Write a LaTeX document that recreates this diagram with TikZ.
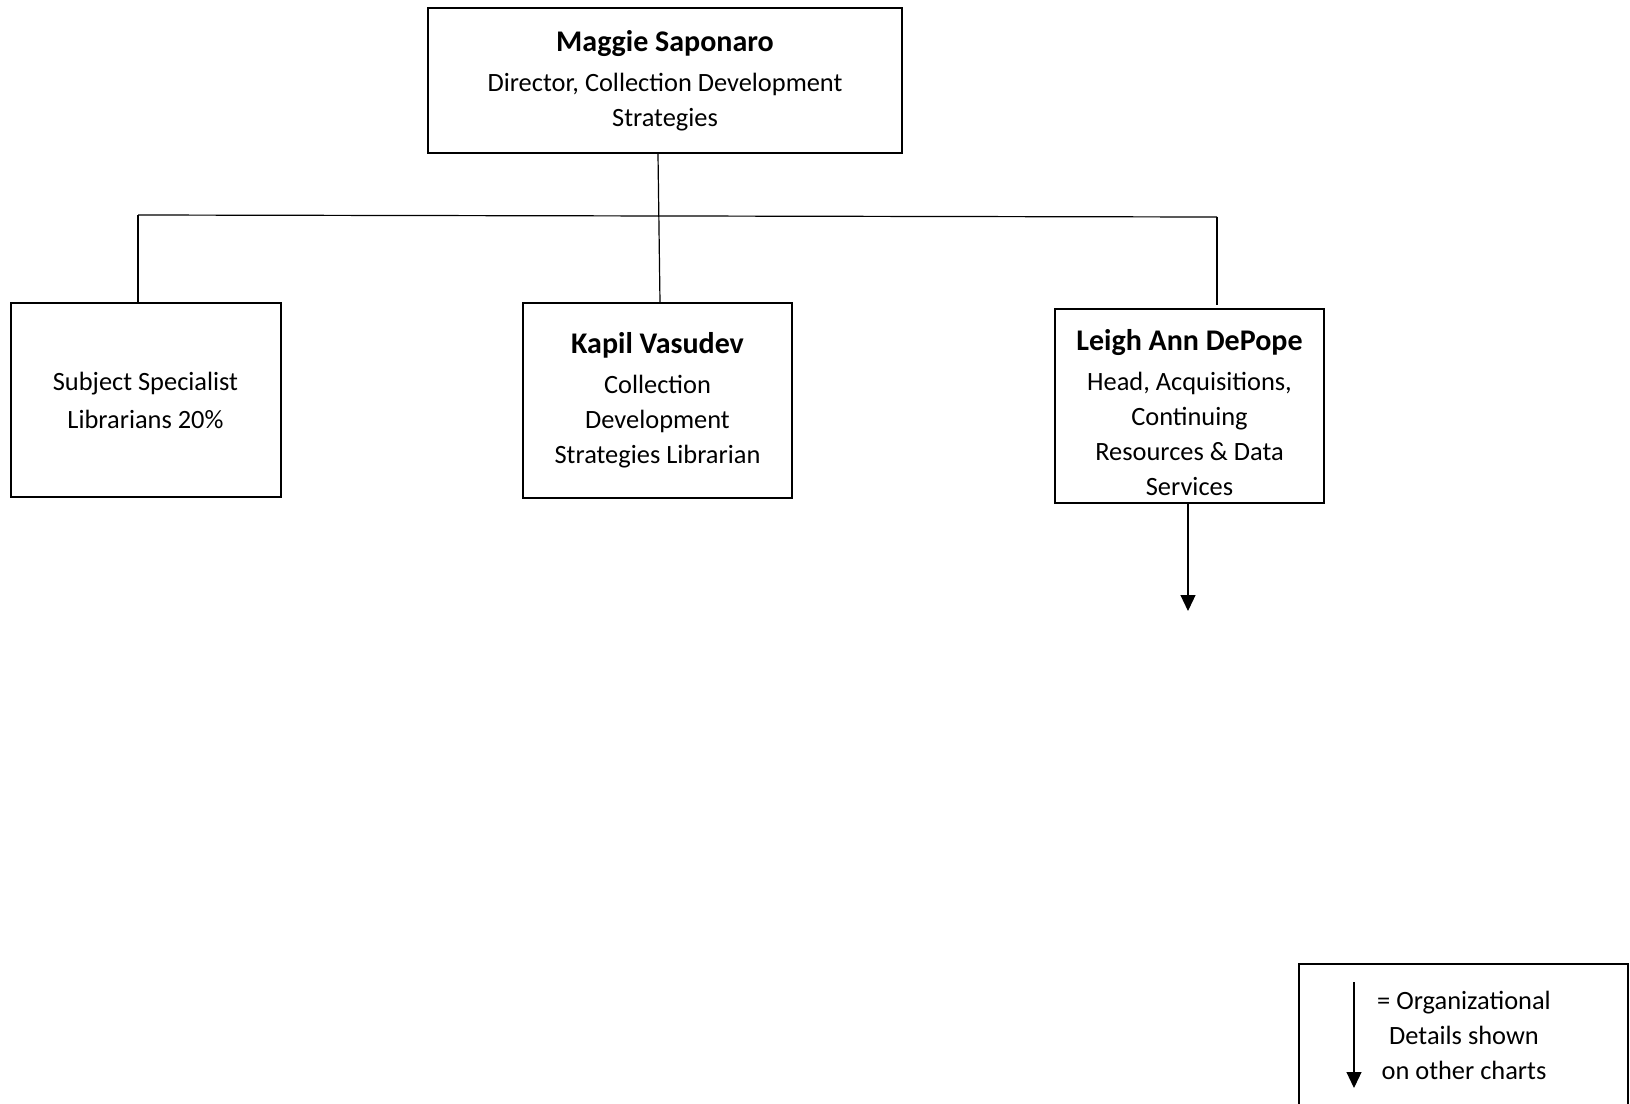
\documentclass[tikz,border=0pt]{standalone}
\usepackage{fontspec}
\setmainfont{Carlito}
\usetikzlibrary{arrows.meta}
\newcommand{\nm}[1]{{\fontsize{15}{17.5}\selectfont\bfseries #1}}
\begin{document}
\begin{tikzpicture}[x=0.5pt,y=-0.5pt,
  box/.style={draw,line width=1pt,align=center,inner sep=0pt,
    font=\fontsize{13.2}{17.5}\selectfont},
  txt/.style={align=center,inner sep=0pt,font=\fontsize{13.2}{17.5}\selectfont},
  conn/.style={line width=0.6pt},
  arr/.style={line width=0.6pt,-{Triangle[width=7.5pt,length=8pt]}}]
\useasboundingbox (0,0) rectangle (1630,1104);
\fill[white] (0,0) rectangle (1630,1104);
\node[box,minimum width=237pt,minimum height=72.5pt] (top) at (665,80.6)
  {\nm{Maggie Saponaro}\\[2.5pt]Director, Collection Development\\Strategies};
\node[box,minimum width=135pt,minimum height=97.25pt] (sub) at (145.5,400)
  {Subject Specialist\\[1.5pt]Librarians 20\%};
\node[box,minimum width=134.5pt,minimum height=97.25pt] (kapil) at (657.5,400.7)
  {\nm{Kapil Vasudev}\\[2.5pt]Collection\\Development\\Strategies Librarian};
\node[box,minimum width=134.5pt,minimum height=97pt,
  label={[txt,yshift=-3.2pt]center:{\nm{Leigh Ann DePope}\\[2.5pt]Head, Acquisitions,\\Continuing\\Resources \& Data\\Services}}]
  (leigh) at (1189.5,406) {};
\coordinate (busL) at (138,215);
\coordinate (busR) at (1217,217);
\draw[conn] (busL) -- (busR);
\draw[conn] (busL) -- (busL |- sub.north);
\draw[conn] (busR) -- ++(0,88);
\draw[conn] ([xshift=-3.5pt]top.south) -- ([xshift=1.25pt]kapil.north);
\coordinate (leighend) at (1188,611);
\draw[arr] (leigh.south -| leighend) -- (leighend);
% legend
\draw[line width=1pt] (1299,964) rectangle (1628,1140);
\coordinate (legA) at (1354,982);
\coordinate (legB) at (1354,1088);
\draw[arr] (legA) -- (legB);
\node[txt] (legtxt) at (1464,1035)
  {= Organizational\\Details shown\\on other charts};
\end{tikzpicture}
\end{document}
